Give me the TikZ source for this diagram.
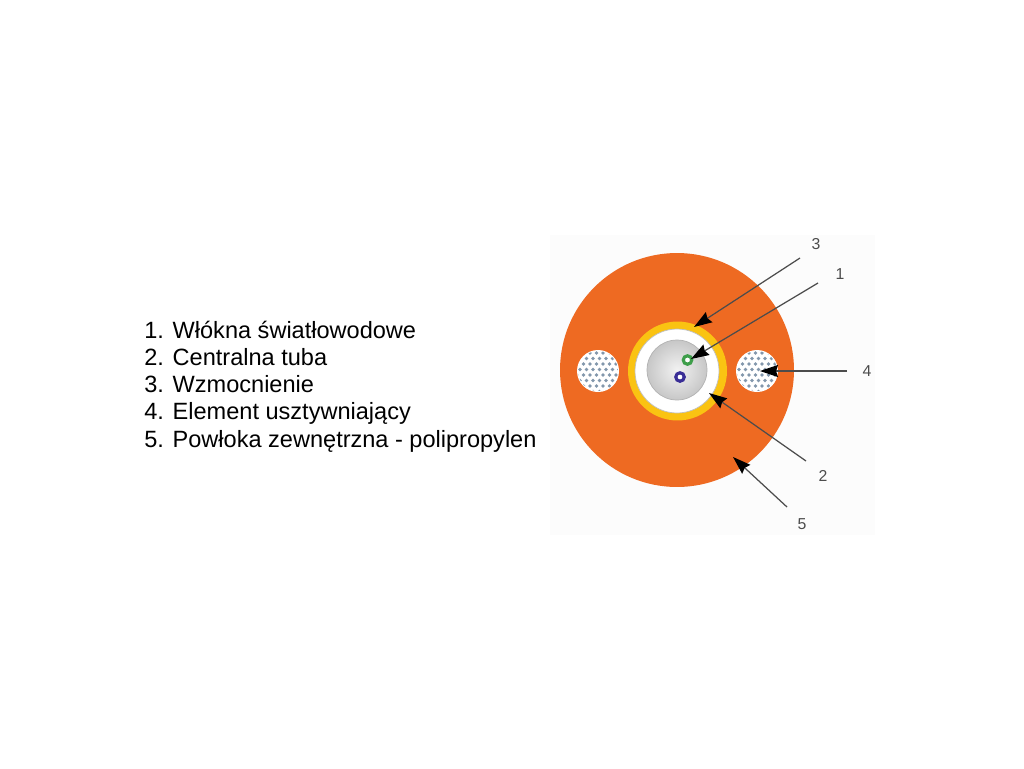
\documentclass[tikz,border=0pt]{standalone}
\usepackage{fontspec}
\setmainfont{Liberation Sans}
\usetikzlibrary{arrows.meta}
\definecolor{powloka}{HTML}{EE6A22}
\definecolor{wzmocnienie}{HTML}{FAC312}
\definecolor{kropka}{HTML}{8297AC}
\definecolor{zielony}{HTML}{3E9E4A}
\definecolor{niebieski}{HTML}{3A2E96}
\tikzset{
  warstwa/.style={circle, inner sep=0pt},
  opis/.style={anchor=base west, inner sep=0pt, font=\fontsize{13.4pt}{15pt}\selectfont},
  numer/.style={inner sep=0pt, text=black!70, font=\fontsize{9pt}{10pt}\selectfont},
  strzalka/.style={draw=black!70, line width=0.7pt, -{Stealth[length=0.36cm, width=0.24cm, inset=0.04cm, black]}},
  wypelnienie/.pic={
    \fill[white] (0,0) circle[radius=21];
    \clip (0,0) circle[radius=20];
    \foreach \y/\s in {-18/0, -12.5/3, -7/0, -1.5/3, 4/0, 9.5/3, 15/0, 20.5/3}
      \foreach \x in {-21, -14.5, -8, -1.5, 5, 11.5, 18}
        \fill[kropka] (\x+\s,\y) circle[radius=1.9];
  }
}
\begin{document}
\begin{tikzpicture}[x=0.02cm, y=-0.02cm]
    \useasboundingbox (0,0) rectangle (1024,768);
    \fill[white] (0,0) rectangle (1024,768);
    \fill[black!1] (550,235) rectangle (875,535);

    % opisy
    \node[opis] (o1) at (144,338) {1. Włókna światłowodowe};
    \node[opis] (o2) at (144,365.25) {2. Centralna tuba};
    \node[opis] (o3) at (144,392.5) {3. Wzmocnienie};
    \node[opis] (o4) at (144,419.75) {4. Element usztywniający};
    \node[opis] (o5) at (144,447) {5. Powłoka zewnętrzna - polipropylen};

    % warstwy kabla
    \node[warstwa, fill=powloka, minimum size=4.68cm] (P) at (677,370) {};
    \node[warstwa, fill=wzmocnienie, minimum size=1.98cm] (W) at (677.5,371) {};
    \node[warstwa, fill=white, draw=black!25, minimum size=1.68cm] (T) at (677,371) {};
    \node[warstwa, inner color=black!5, outer color=black!22, draw=black!30, minimum size=1.2cm] (R) at (677,370) {};

    % włókna
    \node[warstwa, fill=white, draw=zielony, line width=1.8pt, minimum size=0.17cm] (G) at (687.5,360) {};
    \node[warstwa, fill=white, draw=niebieski, line width=1.8pt, minimum size=0.17cm] (B) at (680,377) {};

    % elementy usztywniające
    \pic at (598,371) {wypelnienie};
    \pic at (757,371) {wypelnienie};

    % numery
    \node[numer] (n3) at (816,244) {3};
    \node[numer] (n1) at (840,274) {1};
    \node[numer] (n4) at (867,371) {4};
    \node[numer] (n2) at (823,476) {2};
    \node[numer] (n5) at (802,524) {5};

    % końce strzałek
    \coordinate (s3) at (800,258);
    \coordinate (s1) at (818,283);
    \coordinate (s4) at (847,371);
    \coordinate (s2) at (806,461);
    \coordinate (s5) at (787,507);
    \coordinate (k3) at (694,327);
    \coordinate (k1) at (691,359);
    \coordinate (k4) at (760,371);
    \coordinate (k2) at (709,393);
    \coordinate (k5) at (733,457);

    % strzałki
    \draw[strzalka] (s3) -- (k3);
    \draw[strzalka] (s1) -- (k1);
    \draw[strzalka] (s4) -- (k4);
    \draw[strzalka] (s2) -- (k2);
    \draw[strzalka] (s5) -- (k5);
  \end{tikzpicture}
\end{document}
